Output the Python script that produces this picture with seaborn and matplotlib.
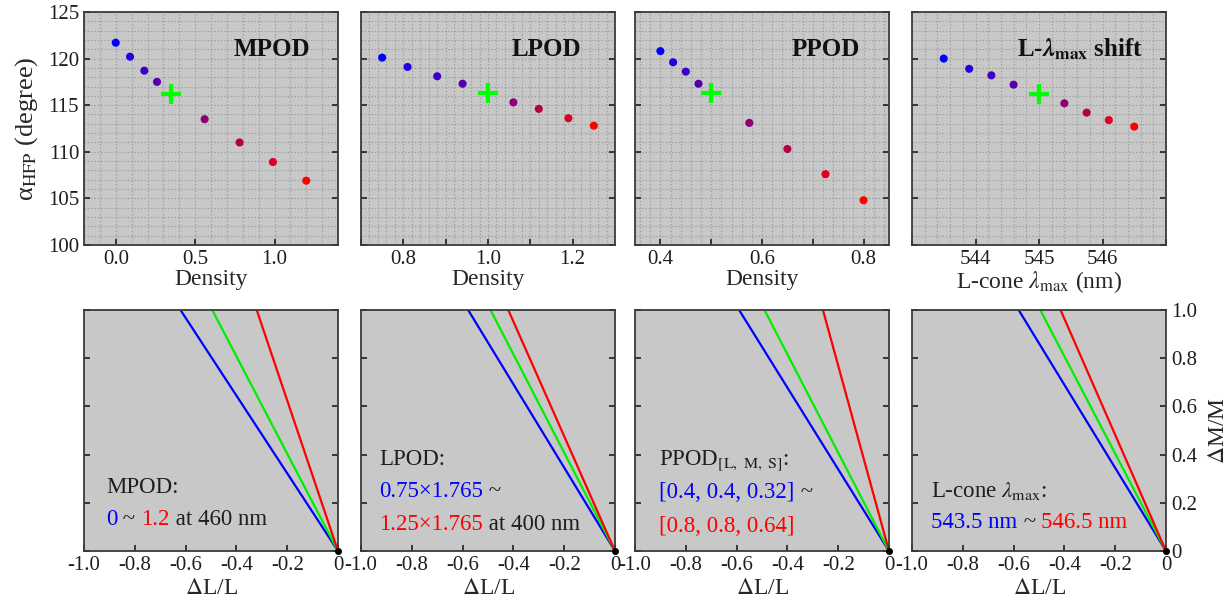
import matplotlib
matplotlib.use('Agg')
import matplotlib.pyplot as plt
from matplotlib.ticker import MultipleLocator
import pandas as pd
import seaborn as sns

sns.set_theme(style='ticks')
plt.rcParams['font.family'] = ['Liberation Serif', 'DejaVu Serif']
plt.rcParams['mathtext.fontset'] = 'stix'
plt.rcParams['axes.unicode_minus'] = False

# top row: alpha_HFP vs parameter, 5th point is the reference (green +)
mpod_x = [0.0, 0.09, 0.18, 0.26, 0.35, 0.56, 0.78, 0.99, 1.2]
mpod_y = [121.7, 120.2, 118.7, 117.5, 116.2, 113.5, 111.0, 108.9, 106.9]
lpod_x = [0.75, 0.81, 0.88, 0.94, 1.0, 1.06, 1.12, 1.19, 1.25]
lpod_y = [120.1, 119.1, 118.1, 117.3, 116.3, 115.3, 114.6, 113.6, 112.8]
ppod_x = [0.4, 0.425, 0.45, 0.475, 0.5, 0.575, 0.65, 0.725, 0.8]
ppod_y = [120.8, 119.6, 118.6, 117.3, 116.3, 113.1, 110.3, 107.6, 104.8]
lmax_x = [543.5, 543.9, 544.25, 544.6, 545.0, 545.4, 545.75, 546.1, 546.5]
lmax_y = [120.0, 118.9, 118.2, 117.2, 116.2, 115.2, 114.2, 113.4, 112.7]
dot_colors = ['#0000ff', '#2200e6', '#3c00c8', '#5400aa', '#8a0070', '#b40048', '#dc0022', '#ff0000']

# bottom row: dL/L where each line reaches dM/M = 1 (blue, green, red)
mpod_lines = [-0.62, -0.495, -0.32]
lpod_lines = [-0.578, -0.49, -0.42]
ppod_lines = [-0.59, -0.49, -0.26]
lmax_lines = [-0.58, -0.495, -0.415]
line_colors = ['#0000ff', '#00ee00', '#ff0000']

titles = ['MPOD', 'LPOD', 'PPOD', r'L-$\mathbfit{\lambda}_{\mathbf{max}}$ shift']
xlabels = ['Density', 'Density', 'Density', r'L-cone $\lambda_{\rm max}$ (nm)']
xlims = [(-0.2, 1.4), (0.7, 1.3), (0.35, 0.85), (543, 547)]
tick_steps = [0.5, 0.1, 0.1, 1.0]
tick_labels = [[0.0, 0.5, 1.0], [0.8, 1.0, 1.2], [0.4, 0.6, 0.8], [544, 545, 546]]
grid_steps = [0.1, 0.02, 0.02, 0.2]
title_x = [0.74, 0.73, 0.75, 0.66]

fig = plt.figure(figsize=(12.28, 6.04), dpi=100)
lefts = [84 / 1228, 361 / 1228, 635 / 1228, 912 / 1228]
w = 254 / 1228
bg = '#c8c8c8'
spine_c = '#3a3a3a'
txt_c = '#1e1e1e'

tops = [(mpod_x, mpod_y), (lpod_x, lpod_y), (ppod_x, ppod_y), (lmax_x, lmax_y)]
for i, (xs, ys) in enumerate(tops):
    ax = fig.add_axes([lefts[i], 0.5944, w, 0.3858])
    ax.set_facecolor(bg)
    pts = pd.DataFrame({'x': xs[:4] + xs[5:], 'y': ys[:4] + ys[5:],
                        'k': [str(j) for j in range(8)]})
    sns.scatterplot(data=pts, x='x', y='y', hue='k', palette=dot_colors,
                    s=34, linewidth=0, legend=False, ax=ax, zorder=3)
    ax.plot(xs[4], ys[4], marker='+', color='#00ff00', ms=14, mew=3, zorder=4)
    ax.set_ylim(100, 125)
    ax.xaxis.set_major_locator(MultipleLocator(tick_steps[i]))
    ax.set_xlim(*xlims[i])
    locs = [v for v in ax.get_xticks() if xlims[i][0] <= v <= xlims[i][1]]
    labs = tick_labels[i]
    fmt = '{:.0f}' if i == 3 else '{:.1f}'
    ax.set_xticks(locs)
    ax.set_xticklabels([fmt.format(v) if any(abs(v - l) < 1e-6 for l in labs) else '' for v in locs])
    ax.set_xlim(*xlims[i])
    ax.yaxis.set_major_locator(MultipleLocator(5))
    ax.xaxis.set_minor_locator(MultipleLocator(grid_steps[i]))
    ax.yaxis.set_minor_locator(MultipleLocator(1))
    ax.grid(which='both', color='#9c9c9c', linestyle=(0, (1.2, 1.8)), linewidth=0.8)
    ax.tick_params(which='major', direction='in', length=4, width=1.2, top=False, right=True,
                   labelsize=15, colors=txt_c)
    ax.tick_params(which='minor', length=0)
    if i > 0:
        ax.set_yticklabels([])
        ax.set_ylabel('')
    else:
        ax.set_ylabel('\u03b1$_{\\rm HFP}$ (degree)', fontsize=19, labelpad=6)
    ax.set_xlabel(xlabels[i], fontsize=17, labelpad=0)
    ax.text(title_x[i], 0.84, titles[i], transform=ax.transAxes, ha='center', va='center',
            fontsize=18, fontweight='bold', color='#111111')
    for sp in ax.spines.values():
        sp.set_color(spine_c)
        sp.set_linewidth(1.3)


def color_text(ax, x, y, parts):
    t = ax.text(x, y, parts[0][0], color=parts[0][1], fontsize=16.5, va='center')
    for s, c in parts[1:]:
        t = ax.annotate(s, xy=(1, 0), xycoords=t, va='bottom', color=c, fontsize=16.5)


notes = [
    [(0.263, [('MPOD:', txt_c)]),
     (0.131, [('0', '#0000ff'), (' ~ ', txt_c), ('1.2', '#ff0000'), (' at 460 nm', txt_c)])],
    [(0.38, [('LPOD:', txt_c)]),
     (0.246, [('0.75\u00d71.765', '#0000ff'), (' ~', txt_c)]),
     (0.111, [('1.25\u00d71.765', '#ff0000'), (' at 400 nm', txt_c)])],
    [(0.376, [(r'PPOD$_{\rm [L,\ M,\ S]}$:', txt_c)]),
     (0.244, [('[0.4, 0.4, 0.32]', '#0000ff'), (' ~', txt_c)]),
     (0.10, [('[0.8, 0.8, 0.64]', '#ff0000')])],
    [(0.25, [(r'L-cone $\lambda_{\rm max}$:', txt_c)]),
     (0.118, [('543.5 nm', '#0000ff'), (' ~ ', txt_c), ('546.5 nm', '#ff0000')])],
]
note_x = [-0.913, -0.929, -0.905, -0.924]

bottoms = [mpod_lines, lpod_lines, ppod_lines, lmax_lines]
for i, ends in enumerate(bottoms):
    ax = fig.add_axes([lefts[i], 0.0877, w, 0.399])
    ax.set_facecolor(bg)
    lines = pd.DataFrame({'x': [v for e in ends for v in (e, 0.0)],
                          'y': [1.0, 0.0] * len(ends),
                          'c': [c for c in ['b', 'g', 'r'] for _ in range(2)]})
    sns.lineplot(data=lines, x='x', y='y', hue='c', palette=line_colors, sort=False,
                 estimator=None, linewidth=1.6, legend=False, ax=ax)
    ax.plot(0, 0, 'o', color='black', ms=4, clip_on=False, zorder=5)
    ax.set_xlim(-1.0, 0.0)
    ax.set_ylim(0, 1.0)
    ax.set_xticks([-1.0, -0.8, -0.6, -0.4, -0.2, 0.0])
    ax.set_xticklabels(['-1.0', '-0.8', '-0.6', '-0.4', '-0.2', '0'])
    ax.set_yticks([0, 0.2, 0.4, 0.6, 0.8, 1.0])
    ax.tick_params(direction='in', length=4, width=1.2, right=True, labelsize=15, colors=txt_c)
    ax.set_xlabel(r'$\Delta$L/L', fontsize=17, labelpad=2)
    if i == 3:
        ax.yaxis.tick_right()
        ax.tick_params(left=True, right=True, labelleft=False, labelright=True)
        ax.set_yticklabels(['0', '0.2', '0.4', '0.6', '0.8', '1.0'])
        ax.yaxis.set_label_position('right')
        ax.set_ylabel(r'$\Delta$M/M', fontsize=17, labelpad=8)
    else:
        ax.set_yticklabels([])
        ax.set_ylabel('')
    for yy, parts in notes[i]:
        color_text(ax, note_x[i], yy, parts)
    for sp in ax.spines.values():
        sp.set_color(spine_c)
        sp.set_linewidth(1.3)

fig.savefig('out.png', dpi=100)
